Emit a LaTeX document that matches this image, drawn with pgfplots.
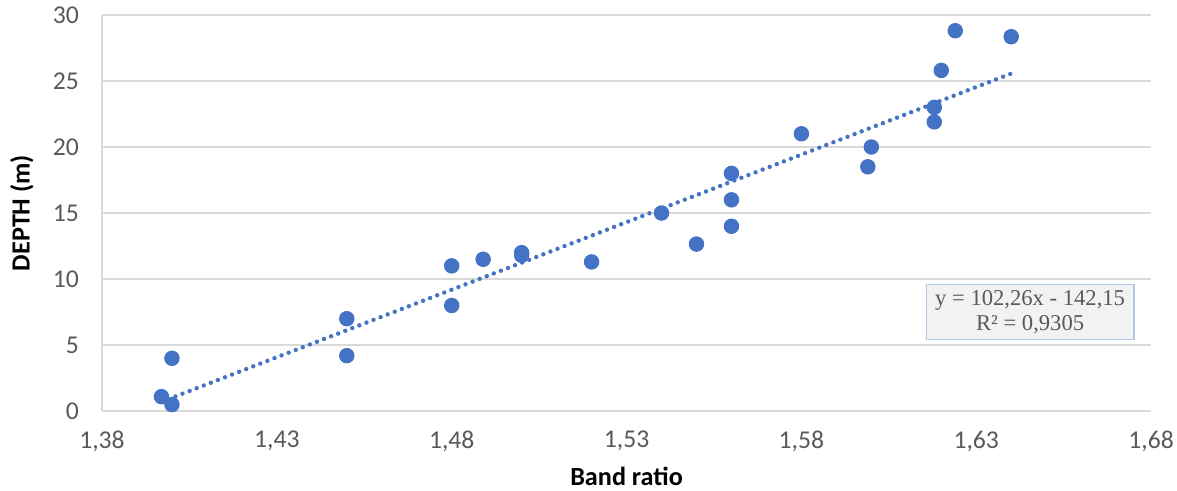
\documentclass[border=0pt]{standalone}
\usepackage{pgfplots}
\pgfplotsset{compat=1.18}
\usepackage{fontspec}
\setmainfont{Carlito}
\newfontfamily\timesfont{Liberation Serif}
\definecolor{cPts}{HTML}{4472C4}
\definecolor{cTick}{HTML}{595959}
\definecolor{cGrid}{HTML}{D9D9D9}
\definecolor{cBoxFill}{HTML}{F2F2F2}
\definecolor{cBoxLine}{HTML}{B4C6E7}

\begin{document}
\begin{tikzpicture}
\begin{axis}[
  scale only axis, width=13.37cm, height=5.05cm,
  xmin=1.38, xmax=1.68, ymin=0, ymax=30,
  xtick={1.38,1.43,1.48,1.53,1.58,1.63,1.68},
  ytick={0,5,...,30},
  ymajorgrids, grid style={cGrid, line width=0.8pt},
  major tick length=0pt,
  axis x line*=bottom, axis y line*=left,
  axis line style={cGrid, line width=0.8pt, -},
  tick label style={font=\fontsize{9.3}{11}\selectfont, text=cTick},
  /pgf/number format/assume math mode=true,
  xticklabel style={/pgf/number format/fixed, /pgf/number format/fixed zerofill,
    /pgf/number format/precision=2, /pgf/number format/use comma, yshift=-0.13cm},
  yticklabel style={xshift=-0.17cm},
  xlabel={\textbf{Band ratio}}, ylabel={\textbf{DEPTH (m)}},
  label style={font=\fontsize{9.5}{11}\selectfont},
  xlabel style={at={(axis description cs:0.5,-0.164)}, anchor=center},
  ylabel style={at={(axis description cs:-0.0763,0.5)}, anchor=center},
  clip=false,
]
\addplot[only marks, mark=*, mark size=2.6pt, mark options={fill=cPts, draw=cPts}] coordinates {
  (1.397,1.1) (1.400,0.5) (1.400,4.0)
  (1.450,7.0) (1.450,4.2)
  (1.480,11.0) (1.480,8.0)
  (1.489,11.5) (1.500,12.0) (1.500,11.8)
  (1.520,11.3) (1.540,15.0) (1.550,12.65)
  (1.560,18.0) (1.560,16.0) (1.560,14.0)
  (1.580,21.0) (1.600,20.0) (1.599,18.5)
  (1.618,21.9) (1.618,23.0) (1.620,25.8)
  (1.624,28.8) (1.640,28.35)
};
\addplot[cPts, line width=1.6pt, line cap=round, dash pattern=on 0pt off 2.75pt] coordinates {
  (1.401,1.117) (1.640,25.56)
};
\node[fill=cBoxFill, draw=cBoxLine, line width=0.6pt, align=center, inner sep=0pt,
  minimum width=2.64cm, minimum height=0.70cm, text=cTick,
  font=\timesfont\fontsize{8.2}{9.2}\selectfont]
  at (axis cs:1.6454,7.5) {y = 102,26x - 142,15\\R² = 0,9305};
\end{axis}
\pgfresetboundingbox
\path[use as bounding box] (-1.30,-1.006) rectangle (13.70,5.24);
\end{tikzpicture}
\end{document}
